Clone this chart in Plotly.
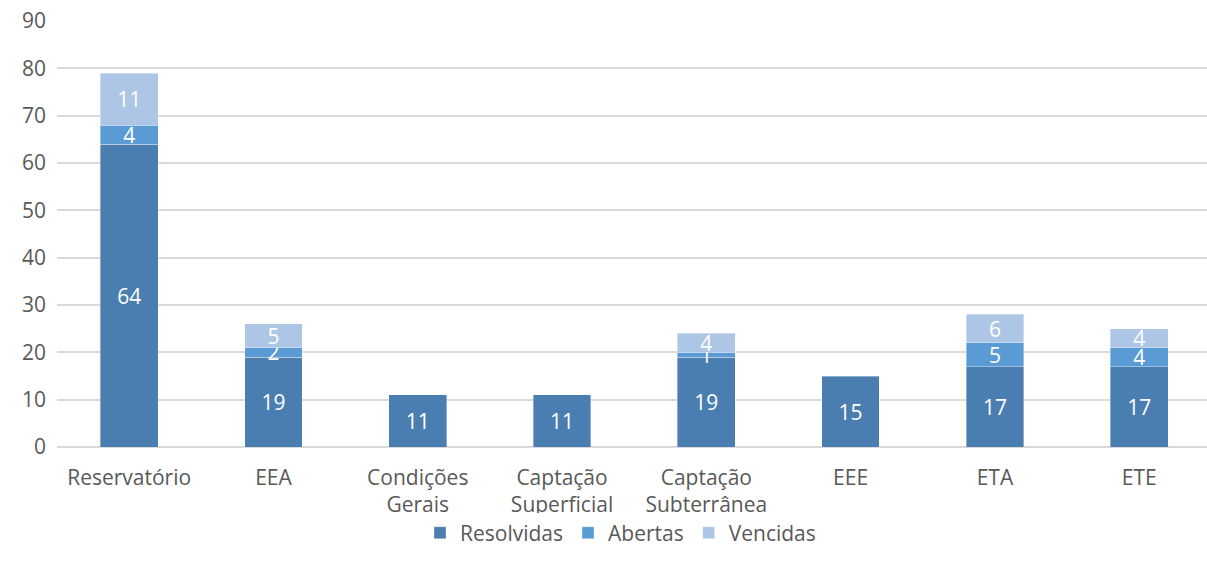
import plotly.graph_objects as go

categories = ["Reservatório", "EEA", "Condições<br>Gerais", "Captação<br>Superficial",
              "Captação<br>Subterrânea", "EEE", "ETA", "ETE"]
resolvidas = [64, 19, 11, 11, 19, 15, 17, 17]
abertas = [4, 2, 0, 0, 1, 0, 5, 4]
vencidas = [11, 5, 0, 0, 4, 0, 6, 4]

series = [
    ("Resolvidas", resolvidas, "#4a7eb0"),
    ("Abertas", abertas, "#5b9bd5"),
    ("Vencidas", vencidas, "#adc6e6"),
]

FONT = "Open Sans, Calibri, Carlito, sans-serif"
FS = 21

fig = go.Figure()
for name, vals, color in series:
    fig.add_trace(go.Bar(
        name=name,
        x=categories,
        y=[v if v else None for v in vals],
        text=[str(v) if v else "" for v in vals],
        textposition="inside",
        insidetextanchor="middle",
        textangle=0,
        textfont=dict(color="white", size=FS, family=FONT),
        marker=dict(color=color, line=dict(color="rgba(255,255,255,0.6)", width=0.6)),
        width=0.4,
        hoverinfo="x+y+name",
    ))

fig.update_layout(
    barmode="stack",
    width=1207, height=570,
    margin=dict(l=57, r=0, t=21, b=123),
    paper_bgcolor="white", plot_bgcolor="white",
    font=dict(family=FONT, color="#595959", size=FS),
    uniformtext=dict(mode="show", minsize=FS),
    showlegend=True,
    legend=dict(orientation="h", x=0.49, xanchor="center", y=-0.202, yanchor="middle",
                font=dict(size=FS, color="#595959"), traceorder="normal",
                itemwidth=30, tracegroupgap=0),
    xaxis=dict(range=[-0.5, 7.47], showgrid=False, showline=False, ticks="",
               ticklabelstandoff=16,
               tickfont=dict(size=FS, color="#595959"), fixedrange=True),
    yaxis=dict(range=[0, 90], dtick=10, showgrid=True, gridcolor="#d9d9d9", gridwidth=1.5,
               zeroline=True, zerolinecolor="#d9d9d9", zerolinewidth=1.5,
               showline=False, ticks="", ticklabelstandoff=10,
               tickfont=dict(size=FS, color="#595959")),
)

fig.write_html(
    "out.html",
    config={"displayModeBar": False},
    post_script="document.body.style.margin='0';document.body.style.overflow='hidden';"
                "document.documentElement.style.overflow='hidden';",
)
